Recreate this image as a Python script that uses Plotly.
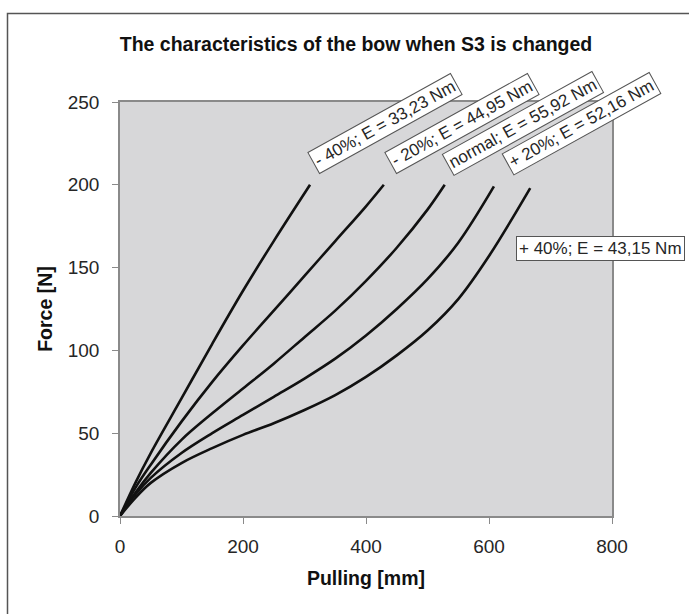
import plotly.graph_objects as go

# ---- data ----
pulling_m40 = [0, 25, 50, 100, 150, 200, 250, 309]
force_m40   = [0, 20, 38, 71, 104, 136, 166, 200]

pulling_m20 = [0, 25, 50, 100, 150, 200, 250, 300, 350, 400, 429]
force_m20   = [0, 17, 31, 57, 81, 103, 124, 145, 166, 187, 200]

pulling_norm = [0, 25, 50, 100, 150, 200, 250, 300, 350, 400, 450, 500, 528]
force_norm   = [0, 14, 26, 46, 62, 77, 92, 108, 124, 142, 162, 185, 200]

pulling_p20 = [0, 25, 50, 100, 150, 200, 250, 300, 350, 400, 450, 500, 550, 608]
force_p20   = [0, 13, 23, 38, 50, 61, 72, 83, 95, 109, 125, 143, 165, 199]

pulling_p40 = [0, 25, 50, 100, 150, 200, 250, 300, 350, 400, 450, 500, 550, 600, 667]
force_p40   = [0, 11, 20, 32, 41, 49, 56, 64, 73, 84, 97, 112, 131, 157, 198]

series_labels = ["- 40%; E = 33,23 Nm", "- 20%; E = 44,95 Nm", "normal; E = 55,92 Nm",
                 "+ 20%; E = 52,16 Nm", "+ 40%; E = 43,15 Nm"]
label_x = [431, 556, 655, 751, 782]
label_y = [237, 237, 237, 237, 161.5]
label_angle = [-29, -29, -29, -29, 0]

x_ticks = [0, 200, 400, 600, 800]
y_ticks = [0, 50, 100, 150, 200, 250]

title_text = "The characteristics of the bow when S3 is changed"
x_title = "Pulling [mm]"
y_title = "Force [N]"

FONT = "Liberation Sans, Arial, Helvetica, sans-serif"
TXT = "#262626"

fig = go.Figure()
for xs, ys in [(pulling_m40, force_m40), (pulling_m20, force_m20), (pulling_norm, force_norm),
               (pulling_p20, force_p20), (pulling_p40, force_p40)]:
    fig.add_trace(go.Scatter(x=xs, y=ys, mode="lines",
                             line=dict(color="#111111", width=2.6, shape="spline", smoothing=1.0),
                             showlegend=False, hoverinfo="skip"))

for t, lx, ly, ang in zip(series_labels, label_x, label_y, label_angle):
    fig.add_annotation(x=lx, y=ly, xref="x", yref="y", text=t, showarrow=False,
                       textangle=ang, font=dict(family=FONT, size=17, color=TXT),
                       bgcolor="white", bordercolor="#555555", borderwidth=1, borderpad=2,
                       xanchor="center", yanchor="middle")

W, H = 689, 614
ML, MR, MT, MB = 120, 77, 102, 98
PW, PH = W - ML - MR, H - MT - MB

def px_to_paper_x(px):
    return (px - ML) / PW

def px_to_paper_y(py):
    return (H - MB - py) / PH

# outer chart border (continues beyond the crop to the right and bottom)
fig.add_shape(type="rect", xref="paper", yref="paper",
              x0=px_to_paper_x(7.5), x1=px_to_paper_x(720),
              y0=px_to_paper_y(640), y1=px_to_paper_y(13.5),
              line=dict(color="#555555", width=1.5), fillcolor="rgba(0,0,0,0)", layer="below")

fig.update_layout(
    width=W, height=H,
    margin=dict(l=ML, r=MR, t=MT, b=MB, pad=0),
    paper_bgcolor="white", plot_bgcolor="#d7d7d9",
    font=dict(family=FONT, color=TXT),
    title=dict(text=title_text, x=356 / W, xref="container", xanchor="center",
               y=1 - 44 / H, yref="container", yanchor="middle",
               font=dict(family=FONT, size=19.5, color="#111111", weight="bold")),
    xaxis=dict(range=[0, 800], tickvals=x_ticks, ticktext=[str(v) for v in x_ticks],
               showgrid=False, zeroline=False, showline=True, mirror=True,
               linecolor="#8a8a8a", linewidth=1.5, ticks="outside", ticklen=6,
               tickcolor="#8a8a8a", tickwidth=1.2, tickfont=dict(size=19, color=TXT),
               ticklabelstandoff=6,
               title=dict(text=x_title, font=dict(size=19.5, weight="bold", color="#111111"), standoff=16)),
    yaxis=dict(range=[0, 250], tickvals=y_ticks, ticktext=[str(v) for v in y_ticks],
               showgrid=False, zeroline=False, showline=True, mirror=True,
               linecolor="#8a8a8a", linewidth=1.5, ticks="outside", ticklen=6,
               tickcolor="#8a8a8a", tickwidth=1.2, tickfont=dict(size=19, color=TXT),
               ticklabelstandoff=9,
               title=dict(text=y_title, font=dict(size=19.5, weight="bold", color="#111111"), standoff=10)),
)

fig.write_html("out.html")
